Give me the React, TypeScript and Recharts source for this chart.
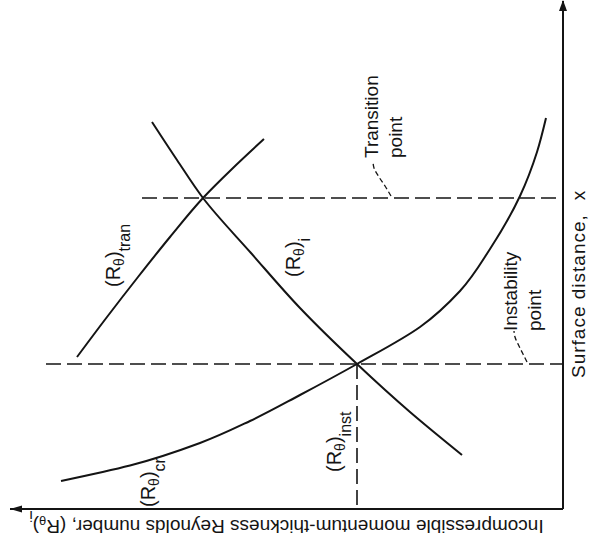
import React from 'react';
import { LineChart, Line, XAxis, YAxis, ReferenceLine, ReferenceDot, Label } from 'recharts';

const FONT = "'Liberation Sans', Arial, sans-serif";
const INK = '#141414';

// surface distance (x) and momentum-thickness Reynolds number, arbitrary units
// (Rθ)i  incompressible value growing along the surface
const iX = [5.4, 9.7, 14.5, 20.1, 25.6, 31.1, 34.9, 38.7];
const iRe = [10.1, 15.3, 20.6, 26.3, 31.2, 36.0, 38.6, 41.1];

// (Rθ)cr  critical value for instability
const crX = [2.8, 4.35, 6.6, 8.8, 11.4, 14.5, 18.2, 21.8, 26.0, 31.3, 35.7, 39.1];
const crRe = [50.2, 43.3, 36.3, 31.3, 26.3, 20.6, 14.3, 10.3, 7.3, 4.3, 2.6, 1.7];

// (Rθ)tran  value needed for transition
const tranX = [15.2, 19.2, 23.2, 27.2, 31.1, 34.1, 37.0];
const tranRe = [48.6, 45.6, 42.5, 39.3, 36.0, 33.0, 29.9];

// leader lines from the notes down to the dashed lines
const transLeadX = [31.3, 32.3, 33.2, 34.1, 34.7];
const transLeadRe = [17.2, 17.8, 18.4, 18.9, 19.0];
const instLeadX = [14.7, 15.5, 16.3, 17.2, 17.8];
const instLeadRe = [3.6, 4.0, 4.4, 4.8, 4.9];

// crossing points
const xTransition = 31.1;
const xInstability = 14.5;
const reInstability = 20.6;

const X_MAX = 50.8;
const RE_MAX = 55.3;

const zip = (xs: number[], re: number[]) => xs.map((x, i) => ({ xs: x, re: re[i] }));

const iData = zip(iX, iRe);
const crData = zip(crX, crRe);
const tranData = zip(tranX, tranRe);
const transLead = zip(transLeadX, transLeadRe);
const instLead = zip(instLeadX, instLeadRe);

// where the curve names and notes sit (data units)
const curveLabels = [
  { sub: 'tran', re: 44.3, xs: 22.2 },
  { sub: 'i', re: 26.3, xs: 23.2 },
  { sub: 'inst', re: 22.2, xs: 3.7 },
  { sub: 'cr', re: 40.8, xs: 0.2 },
];
const notes = [
  { lines: ['Transition', 'point'], re: 18.5, xs: 35.1 },
  { lines: ['Instability', 'point'], re: 4.6, xs: 17.8 },
];

const textStyle = { fontFamily: FONT, fill: INK };

const ReName = ({ cx, cy, sub }: { cx: number; cy: number; sub: string }) => (
  <text x={cx} y={cy} transform={`rotate(-90 ${cx} ${cy})`} fontSize={20} {...textStyle}>
    (R<tspan fontSize={14} dy={4}>θ</tspan>
    <tspan dy={-4}>)</tspan>
    <tspan fontSize={16} dy={10}>{sub}</tspan>
  </text>
);

const Note = ({ cx, cy, lines }: { cx: number; cy: number; lines: string[] }) => (
  <text x={cx} y={cy} transform={`rotate(-90 ${cx} ${cy})`} fontSize={19} {...textStyle}>
    {lines.map((l, i) => (
      <tspan key={l} x={cx} dy={i === 0 ? 0 : 24}>
        {l}
      </tspan>
    ))}
  </text>
);

const BottomTitle = (props: any) => {
  const vb = props.viewBox || { x: 10, y: 509, width: 553, height: 50 };
  const cx = vb.x + vb.width / 2;
  const y = vb.y + 11;
  return (
    <text x={cx} y={y} textAnchor="middle" transform={`rotate(180 ${cx} ${y})`} fontSize={19} {...textStyle}>
      Incompressible momentum-thickness Reynolds number, (R<tspan fontSize={13} dy={4}>θ</tspan>
      <tspan dy={-4}>)</tspan>
      <tspan fontSize={15} dy={9}>i</tspan>
    </text>
  );
};

const SideTitle = (props: any) => {
  const vb = props.viewBox || { x: 563, y: 1, width: 26, height: 508 };
  const x = vb.x + 22;
  const y = vb.y + 377;
  return (
    <text x={x} y={y} transform={`rotate(-90 ${x} ${y})`} fontSize={19} letterSpacing={1} {...textStyle}>
      Surface distance,<tspan dx={14}>x</tspan>
    </text>
  );
};

const UpArrow = ({ cx, cy }: any) => (
  <polygon points={`${cx},${cy - 1} ${cx - 4},${cy + 10} ${cx + 4},${cy + 10}`} fill={INK} />
);
const LeftArrow = ({ cx, cy }: any) => (
  <polygon points={`${cx},${cy} ${cx + 12},${cy - 3.5} ${cx + 12},${cy + 3.5}`} fill={INK} />
);

const curve = { type: 'monotone' as const, stroke: INK, strokeWidth: 2, dot: false, activeDot: false, isAnimationActive: false };
const dashed = { stroke: INK, strokeWidth: 1.6, strokeDasharray: '15 6' };

export default function App() {
  return (
    <div style={{ position: 'absolute', left: 0, top: 0, background: '#fff' }}>
      <LineChart layout="vertical" width={589} height={559} margin={{ top: 1, right: 0, bottom: 0, left: 10 }}>
        <XAxis
          type="number"
          domain={[0, RE_MAX]}
          allowDataOverflow
          reversed
          height={50}
          tick={false}
          tickLine={false}
          axisLine={{ stroke: INK, strokeWidth: 2 }}
        >
          <Label content={BottomTitle} />
        </XAxis>
        <YAxis
          type="number"
          dataKey="xs"
          orientation="right"
          domain={[0, X_MAX]}
          allowDataOverflow
          reversed
          width={26}
          tick={false}
          tickLine={false}
          axisLine={{ stroke: INK, strokeWidth: 2 }}
        >
          <Label content={SideTitle} />
        </YAxis>

        <ReferenceLine segment={[{ x: 42.1, y: xTransition }, { x: 0, y: xTransition }]} {...dashed} />
        <ReferenceLine segment={[{ x: 51.7, y: xInstability }, { x: 0, y: xInstability }]} {...dashed} />
        <ReferenceLine segment={[{ x: reInstability, y: xInstability }, { x: reInstability, y: 0 }]} {...dashed} />

        <Line data={iData} dataKey="re" {...curve} />
        <Line data={crData} dataKey="re" {...curve} />
        <Line data={tranData} dataKey="re" {...curve} />
        <Line data={transLead} dataKey="re" {...curve} strokeWidth={1.3} strokeDasharray="5 3" />
        <Line data={instLead} dataKey="re" {...curve} strokeWidth={1.3} strokeDasharray="5 3" />

        {curveLabels.map((c) => (
          <ReferenceDot
            key={c.sub}
            x={c.re}
            y={c.xs}
            r={1}
            ifOverflow="visible"
            shape={(p: any) => <ReName cx={p.cx} cy={p.cy} sub={c.sub} />}
          />
        ))}
        {notes.map((n) => (
          <ReferenceDot
            key={n.lines[0]}
            x={n.re}
            y={n.xs}
            r={1}
            ifOverflow="visible"
            shape={(p: any) => <Note cx={p.cx} cy={p.cy} lines={n.lines} />}
          />
        ))}

        <ReferenceDot x={0} y={X_MAX} r={1} ifOverflow="visible" shape={UpArrow} />
        <ReferenceDot x={RE_MAX} y={0} r={1} ifOverflow="visible" shape={LeftArrow} />
      </LineChart>
    </div>
  );
}
